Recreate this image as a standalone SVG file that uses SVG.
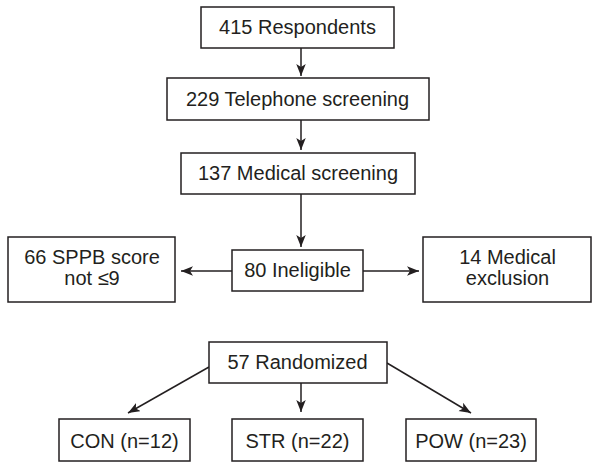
<svg xmlns="http://www.w3.org/2000/svg" width="600" height="468" viewBox="0 0 600 468">
<style>
.box{fill:#fff;stroke:#231f20;stroke-width:1.5}
.t{font-family:"Liberation Sans",Arial,Helvetica,sans-serif;font-size:20px;fill:#231f20;text-anchor:middle}
.c{stroke:#231f20;stroke-width:1.5;fill:none;marker-end:url(#ah)}
</style>
<defs>
<marker id="ah" markerUnits="userSpaceOnUse" markerWidth="13" markerHeight="10" refX="12" refY="4.75" orient="auto">
<path d="M0,0 L12,4.75 L0,9.5 L3,4.75 z" fill="#231f20"/>
</marker>
</defs>
<rect width="600" height="468" fill="#fff"/>
<g id="connectors">
<line class="c" x1="301" y1="48" x2="301" y2="76"/>
<line class="c" x1="301" y1="120" x2="301" y2="150"/>
<line class="c" x1="301" y1="194" x2="301" y2="247"/>
<line class="c" x1="232" y1="271" x2="181" y2="271"/>
<line class="c" x1="363" y1="271" x2="419" y2="271"/>
<line class="c" x1="209" y1="367" x2="128" y2="413"/>
<line class="c" x1="301" y1="383" x2="301" y2="412"/>
<line class="c" x1="387" y1="363" x2="471" y2="413"/>
</g>
<g id="n1"><rect class="box" x="201" y="7" width="193" height="41"/><text class="t" x="297.5" y="34.3">415 Respondents</text></g>
<g id="n2"><rect class="box" x="167" y="78" width="262" height="42"/><text class="t" x="297.5" y="106">229 Telephone screening</text></g>
<g id="n3"><rect class="box" x="181" y="153" width="234" height="41"/><text class="t" x="298" y="180">137 Medical screening</text></g>
<g id="n4"><rect class="box" x="8" y="237" width="167" height="65"/><text class="t" x="92" y="264">66 SPPB score</text><text class="t" x="92" y="285">not ≤9</text></g>
<g id="n5"><rect class="box" x="232" y="250" width="131" height="41"/><text class="t" x="297.5" y="277.3">80 Ineligible</text></g>
<g id="n6"><rect class="box" x="423" y="237" width="168" height="65"/><text class="t" x="507.5" y="264">14 Medical</text><text class="t" x="507.5" y="285">exclusion</text></g>
<g id="n7"><rect class="box" x="209" y="342" width="178" height="41"/><text class="t" x="297.5" y="369.3">57 Randomized</text></g>
<g id="n8"><rect class="box" x="59" y="419" width="131" height="42"/><text class="t" x="124.5" y="448.3">CON (n=12)</text></g>
<g id="n9"><rect class="box" x="232" y="419" width="131" height="42"/><text class="t" x="297.5" y="448.3">STR (n=22)</text></g>
<g id="n10"><rect class="box" x="406" y="419" width="130" height="42"/><text class="t" x="471" y="448.3">POW (n=23)</text></g>
</svg>
